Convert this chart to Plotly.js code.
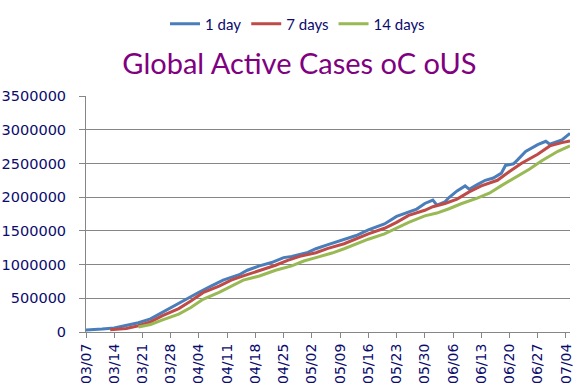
<!DOCTYPE html>
<html>
<head>
<meta charset="utf-8">
<script src="https://cdn.plot.ly/plotly-3.0.1.min.js"></script>
<style>
  html, body { margin: 0; padding: 0; background: #ffffff; }
  #chart { width: 577px; height: 384px; }
</style>
</head>
<body>
<div id="chart"></div>
<script>
// ---- Data ----
const chartTitle = "Global Active Cases oC oUS";
const seriesNames = ["1 day", "7 days", "14 days"];

const oneDayDates = ["2020-03-07","2020-03-09","2020-03-11","2020-03-14","2020-03-17","2020-03-20","2020-03-23","2020-03-26","2020-03-29","2020-03-31","2020-04-04","2020-04-07","2020-04-10","2020-04-14","2020-04-16","2020-04-19","2020-04-22","2020-04-25","2020-04-27","2020-05-01","2020-05-03","2020-05-06","2020-05-10","2020-05-13","2020-05-16","2020-05-20","2020-05-23","2020-05-26","2020-05-28","2020-05-30","2020-06-01","2020-06-02","2020-06-04","2020-06-05","2020-06-07","2020-06-09","2020-06-10","2020-06-12","2020-06-14","2020-06-16","2020-06-18","2020-06-19","2020-06-21","2020-06-22","2020-06-24","2020-06-27","2020-06-29","2020-06-30","2020-07-02","2020-07-03","2020-07-05"];
const oneDayValues = [30000,32000,44000,60000,95000,137000,195000,295000,387000,450000,590000,681000,770000,850000,916000,980000,1030000,1103000,1120000,1180000,1235000,1295000,1372000,1431000,1515000,1603000,1715000,1784000,1823000,1906000,1956000,1882000,1931000,1994000,2093000,2166000,2118000,2185000,2250000,2284000,2357000,2470000,2494000,2553000,2677000,2779000,2828000,2784000,2824000,2847000,2946000];

const sevenDayDates = ["2020-03-13","2020-03-17","2020-03-20","2020-03-23","2020-03-26","2020-03-30","2020-04-02","2020-04-05","2020-04-09","2020-04-12","2020-04-15","2020-04-19","2020-04-23","2020-04-26","2020-04-29","2020-05-03","2020-05-06","2020-05-10","2020-05-13","2020-05-16","2020-05-20","2020-05-23","2020-05-26","2020-05-30","2020-06-01","2020-06-04","2020-06-07","2020-06-10","2020-06-13","2020-06-17","2020-06-20","2020-06-23","2020-06-27","2020-06-30","2020-07-03","2020-07-05"];
const sevenDayValues = [34000,53000,93000,151000,244000,347000,460000,583000,681000,769000,832000,906000,990000,1063000,1122000,1176000,1240000,1309000,1382000,1456000,1538000,1626000,1730000,1805000,1858000,1906000,1971000,2078000,2166000,2250000,2380000,2504000,2637000,2760000,2809000,2833000];

const fourteenDayDates = ["2020-03-20","2020-03-23","2020-03-26","2020-03-30","2020-04-02","2020-04-05","2020-04-09","2020-04-12","2020-04-15","2020-04-19","2020-04-23","2020-04-27","2020-04-30","2020-05-03","2020-05-07","2020-05-10","2020-05-13","2020-05-16","2020-05-20","2020-05-23","2020-05-26","2020-05-30","2020-06-02","2020-06-05","2020-06-08","2020-06-12","2020-06-15","2020-06-18","2020-06-22","2020-06-25","2020-06-28","2020-07-02","2020-07-05"];
const fourteenDayValues = [73000,112000,181000,265000,362000,485000,588000,681000,769000,830000,916000,980000,1053000,1103000,1171000,1235000,1309000,1376000,1456000,1544000,1626000,1722000,1764000,1828000,1902000,1985000,2059000,2171000,2304000,2416000,2539000,2680000,2760000];

const xTickDates = ["2020-03-07","2020-03-14","2020-03-21","2020-03-28","2020-04-04","2020-04-11","2020-04-18","2020-04-25","2020-05-02","2020-05-09","2020-05-16","2020-05-23","2020-05-30","2020-06-06","2020-06-13","2020-06-20","2020-06-27","2020-07-04"];
const xTickLabels = ["03/07","03/14","03/21","03/28","04/04","04/11","04/18","04/25","05/02","05/09","05/16","05/23","05/30","06/06","06/13","06/20","06/27","07/04"];
const yTickValues = [0,500000,1000000,1500000,2000000,2500000,3000000,3500000];
const yTickLabels = ["0","500000","1000000","1500000","2000000","2500000","3000000","3500000"];

// ---- Styles ----
const colors = ["#4A7EBB", "#BE4B48", "#98B954"];
const navy = "#0B0B6E";
const gridGray = "#868686";

const traces = [
  {x: oneDayDates, y: oneDayValues, name: seriesNames[0]},
  {x: sevenDayDates, y: sevenDayValues, name: seriesNames[1]},
  {x: fourteenDayDates, y: fourteenDayValues, name: seriesNames[2]}
].map((t, i) => Object.assign(t, {
  type: "scatter",
  mode: "lines",
  line: {color: colors[i], width: 3},
  hoverinfo: "skip"
}));

const layout = {
  width: 577,
  height: 384,
  paper_bgcolor: "#ffffff",
  plot_bgcolor: "#ffffff",
  margin: {l: 86, r: 7, t: 94, b: 52},
  showlegend: true,
  legend: {
    orientation: "h",
    xref: "paper", yref: "paper",
    x: 0.437, xanchor: "center",
    y: 1.305, yanchor: "middle",
    font: {family: "Lato, 'Open Sans', sans-serif", size: 15, color: navy},
    itemwidth: 30,
    tracegroupgap: 0,
    bgcolor: "rgba(0,0,0,0)"
  },
  title: {
    text: chartTitle,
    font: {family: "Lato, 'Open Sans', sans-serif", size: 29, color: "#800080"},
    xref: "paper", x: 0.441, xanchor: "center",
    yref: "container", y: 0.835, yanchor: "middle"
  },
  xaxis: {
    type: "date",
    range: ["2020-03-07", "2020-07-05"],
    tickmode: "array",
    tickvals: xTickDates,
    ticktext: xTickLabels,
    tickangle: -90,
    ticks: "outside",
    ticklen: 5,
    tickcolor: gridGray,
    showline: true,
    linecolor: gridGray,
    linewidth: 1,
    showgrid: false,
    zeroline: false,
    tickfont: {family: "'DejaVu Sans', sans-serif", size: 14, color: navy}
  },
  yaxis: {
    range: [0, 3500000],
    tickmode: "array",
    tickvals: yTickValues,
    ticktext: yTickLabels,
    ticks: "outside",
    ticklen: 6,
    tickcolor: gridGray,
    showline: true,
    linecolor: gridGray,
    linewidth: 1,
    showgrid: true,
    gridcolor: gridGray,
    gridwidth: 1,
    zeroline: false,
    ticklabelstandoff: 10,
    tickfont: {family: "'DejaVu Sans', sans-serif", size: 14.5, color: navy}
  }
};

Plotly.newPlot("chart", traces, layout, {displayModeBar: false, staticPlot: true});
</script>
</body>
</html>
